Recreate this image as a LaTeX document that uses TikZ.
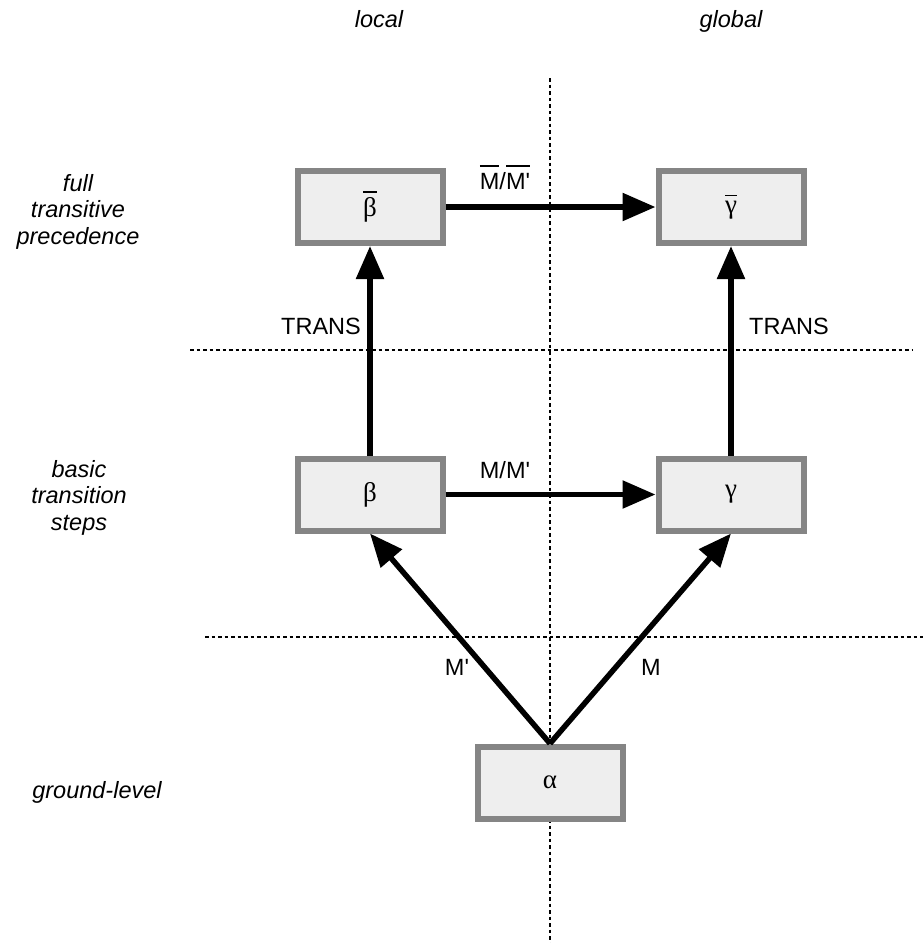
\documentclass[tikz,border=0pt]{standalone}
\usepackage{fontspec}
\setmainfont{Liberation Sans}[Ligatures=TeXOff]
\newfontfamily\greekfont{Liberation Serif}
\usetikzlibrary{arrows.meta}

% a thin bar set over its argument
\newcommand\withbar[2][5pt]{%
  \setbox0=\hbox{#2}%
  \rlap{\raisebox{\dimexpr\ht0+#1\relax}{\rule{\wd0}{1.6pt}}}\box0}

\definecolor{boxfill}{HTML}{EEEEEE}
\definecolor{boxline}{HTML}{858585}

\tikzset{
  every node/.style={font=\fontsize{23.5}{26.5}\selectfont, inner sep=0pt},
  level/.style={font=\fontsize{23.5}{26.5}\selectfont\itshape, align=center},
  greek/.style={font=\fontsize{27}{30}\selectfont\greekfont},
  termbox/.style={draw=boxline, fill=boxfill, line width=6pt,
    minimum width=145pt, minimum height=72pt, greek},
  flow/.style={line width=5.5pt, -{Triangle[length=33pt,width=27pt]}},
  divider/.style={line width=1.5pt, dash pattern=on 3.5pt off 3pt},
}

\begin{document}
\begin{tikzpicture}[x=1pt, y=-1pt]
\useasboundingbox (0,0) rectangle (923,943);

% dividing lines between the levels and between local and global
\coordinate (vtop) at (550,78);
\coordinate (vbot) at (550,943);
\coordinate (h1l) at (190,350);
\coordinate (h1r) at (912,350);
\coordinate (h2l) at (205,637);
\coordinate (h2r) at (923,637);
\draw[divider] (vtop) -- (vbot);
\draw[divider] (h1l) -- (h1r);
\draw[divider] (h2l) -- (h2r);

% column and row headings (base anchor sits on the last line)
\node[level, anchor=base] (hlocal) at (379,27) {local};
\node[level, anchor=base] (hglobal) at (731,27) {global};
\node[level, anchor=base] (rfull) at (78,244) {full\\transitive\\precedence};
\node[level, anchor=base] (rbasic) at (79,530) {basic\\transition\\steps};
\node[level, anchor=base] (rground) at (97,798) {ground-level};

% relations
\node[termbox] (bb) at (370,207) {\withbar[5pt]{β}};
\node[termbox] (gb) at (731,207) {\withbar[5pt]{γ}};
\node[termbox] (b) at (370,494.5) {β};
\node[termbox] (g) at (731,494.5) {γ};

% arrows between relations
\draw[flow] (bb.east) -- (gb.west);
\draw[flow] (b.east) -- (g.west);
\draw[flow] (b.north) -- (bb.south);
\draw[flow] (g.north) -- (gb.south);

\node[termbox] (a) at (550,782.5) {α};
\draw[flow] (a.north) -- (b.south);
\draw[flow] (a.north) -- (g.south);

% arrow labels
\node[anchor=base] (lmbar) at (505,189) {\withbar[6pt]{M}/\withbar[6pt]{M'}};
\node[anchor=base] (lm) at (505,478) {M/M'};
\node[anchor=base] (ltl) at (321,334) {TRANS};
\node[anchor=base] (ltr) at (789,334) {TRANS};
\node[anchor=base] (lmp) at (457,675) {M'};
\node[anchor=base] (lmm) at (651,675) {M};
\end{tikzpicture}
\end{document}
